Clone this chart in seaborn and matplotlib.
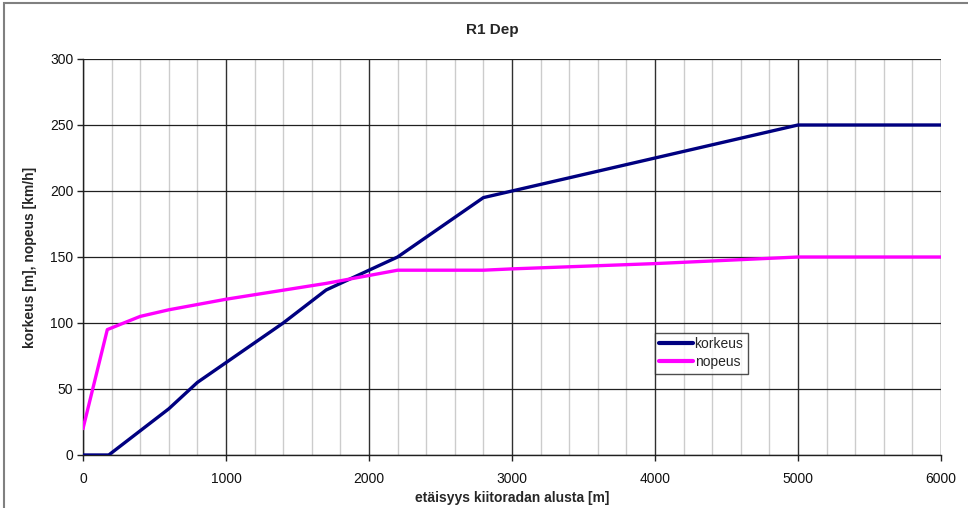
import matplotlib
matplotlib.use("Agg")
import matplotlib.pyplot as plt
import seaborn as sns
import pandas as pd
from matplotlib.ticker import MultipleLocator
from matplotlib.patches import Rectangle

# Data
korkeus_x = [0, 180, 600, 800, 1000, 1400, 1700, 2200, 2800, 3000, 5000, 6000]
korkeus_y = [0, 0, 35, 55, 70, 100, 125, 150, 195, 200, 250, 250]
nopeus_x = [0, 170, 400, 600, 800, 1000, 1700, 2200, 2800, 3000, 4000, 5000, 6000]
nopeus_y = [20, 95, 105, 110, 114, 118, 130, 140, 140, 141, 145, 150, 150]
series_names = ["korkeus", "nopeus"]
title = "R1 Dep"
xlabel = "etäisyys kiitoradan alusta [m]"
ylabel = "korkeus [m], nopeus [km/h]"

df = pd.concat([
    pd.DataFrame({"x": korkeus_x, "y": korkeus_y, "sarja": series_names[0]}),
    pd.DataFrame({"x": nopeus_x, "y": nopeus_y, "sarja": series_names[1]}),
], ignore_index=True)

sns.set_theme(style="white")
plt.rcParams["font.family"] = ["Liberation Sans", "DejaVu Sans"]

fig = plt.figure(figsize=(9.68, 5.08), dpi=100)
fig.patch.set_facecolor("white")
ax = fig.add_axes([83/968, 53/508, 858/968, 396/508])

sns.lineplot(data=df, x="x", y="y", hue="sarja", palette={"korkeus": "#000080", "nopeus": "#FF00FF"},
             linewidth=2.4, ax=ax, sort=False, estimator=None, zorder=3)

ax.set_xlim(0, 6000)
ax.set_ylim(0, 300)
ax.xaxis.set_major_locator(MultipleLocator(1000))
ax.xaxis.set_minor_locator(MultipleLocator(200))
ax.yaxis.set_major_locator(MultipleLocator(50))
ax.grid(which="minor", axis="x", color="#cccccc", linewidth=1.0, zorder=0)
ax.grid(which="major", axis="x", color="#303030", linewidth=1.0, zorder=1)
ax.grid(which="major", axis="y", color="#202020", linewidth=0.9, zorder=1)
ax.set_axisbelow(True)

for s in ["top", "right"]:
    ax.spines[s].set_visible(False)
for s in ["left", "bottom"]:
    ax.spines[s].set_color("#202020")
    ax.spines[s].set_linewidth(1.0)

ax.tick_params(axis="both", which="major", direction="out", length=4, width=1, color="#202020",
               labelsize=10, labelcolor="#111111", pad=8, bottom=True, left=True)
ax.tick_params(axis="x", which="minor", bottom=False)
ax.tick_params(axis="y", pad=3)

ax.set_xlabel(xlabel, fontsize=10, fontweight="bold", labelpad=4)
ax.set_ylabel(ylabel, fontsize=10, fontweight="bold", labelpad=9)
fig.text(492/968, 1 - 30/508, title, ha="center", va="center", fontsize=11, fontweight="bold")

leg = ax.legend(loc="upper left", bbox_to_anchor=((655-83)/858, (455-333)/396), frameon=True,
                fancybox=False, fontsize=10, handlelength=2.4, handletextpad=0.15,
                borderpad=0.3, labelspacing=0.3, borderaxespad=0)
leg.get_frame().set_edgecolor("#222222")
leg.get_frame().set_linewidth(1.0)
for line in leg.get_lines():
    line.set_linewidth(3)

# chart border
fig.patches.append(Rectangle((4/968, -0.1), 1.2, (505/508) + 0.1, transform=fig.transFigure,
                             fill=False, edgecolor="#808080", linewidth=1.5))

fig.savefig("out.png", dpi=100)
